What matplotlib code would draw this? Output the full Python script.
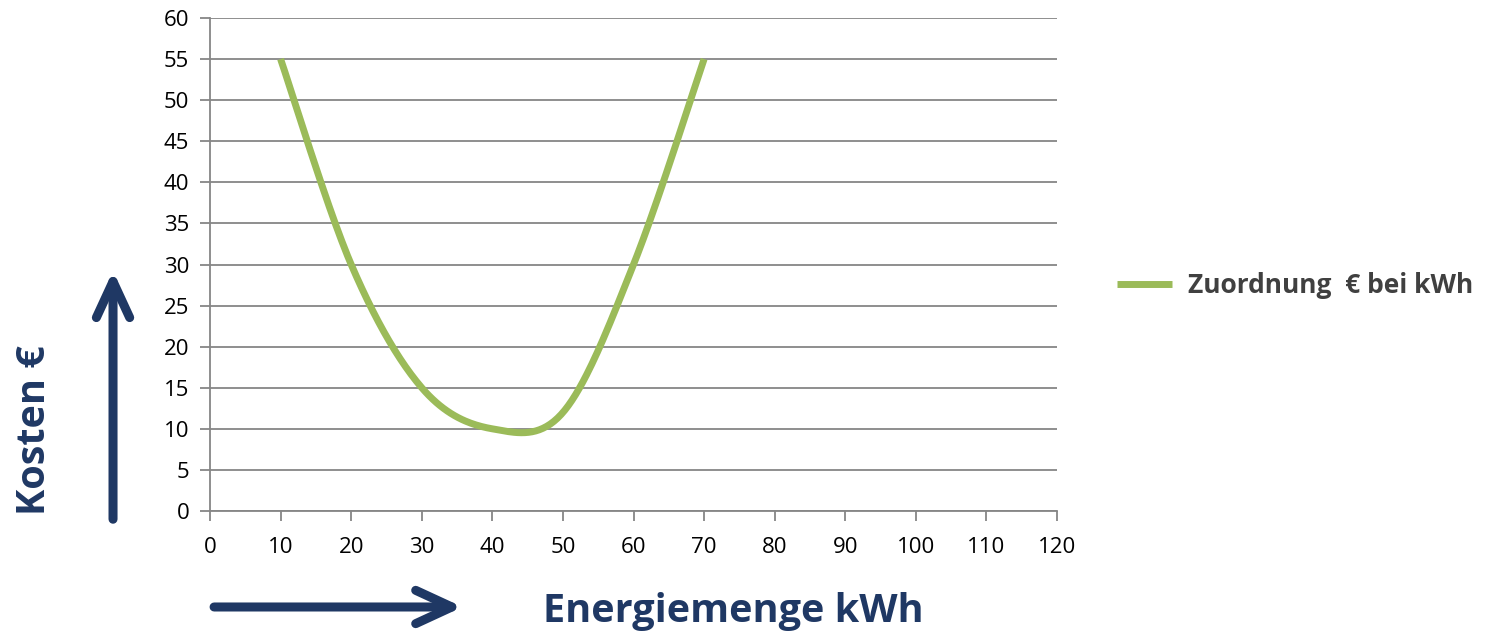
import numpy as np
import matplotlib.pyplot as plt
from matplotlib.patches import FancyArrowPatch

plt.rcParams['font.family'] = ['Open Sans', 'DejaVu Sans']

# Messpunkte: Energiemenge (kWh) -> Kosten (EUR)
kwh = [10, 20, 30, 40, 50, 60, 70]
kosten = [55, 30, 15, 10, 12, 30, 55]
x_ticks = list(range(0, 121, 10))
y_ticks = list(range(0, 61, 5))
serie = 'Zuordnung  € bei kWh'

gruen = '#9BBB59'
blau = '#1F3864'
grau = '#868686'


def glatt(xs, ys, n=40):
    # geglättete Linie wie in Excel (Bezier mit Catmull-Rom-Tangenten)
    p = np.column_stack([xs, ys]).astype(float)
    p = np.vstack([p[0], p, p[-1]])
    out = []
    for i in range(1, len(p) - 2):
        p0, p1, p2, p3 = p[i - 1], p[i], p[i + 1], p[i + 2]
        c1 = p1 + (p2 - p0) / 6
        c2 = p2 - (p3 - p1) / 6
        t = np.linspace(0, 1, n)[:, None]
        seg = (1 - t)**3 * p1 + 3 * (1 - t)**2 * t * c1 + 3 * (1 - t) * t**2 * c2 + t**3 * p2
        out.append(seg if i == 1 else seg[1:])
    out = np.vstack(out)
    return out[:, 0], out[:, 1]


fig = plt.figure(figsize=(14.97, 6.34), dpi=100)
ax = fig.add_axes([0.1403, 0.194, 0.5658, 0.7776])

sx, sy = glatt(kwh, kosten)
ax.plot(sx, sy, color=gruen, lw=5, solid_capstyle='butt', label=serie, zorder=3)

ax.set_xlim(0, 120)
ax.set_ylim(0, 60)
ax.set_xticks(x_ticks)
ax.set_yticks(y_ticks)
ax.yaxis.grid(True, color=grau, lw=1.3)
ax.set_axisbelow(True)
for s in ['top', 'right']:
    ax.spines[s].set_visible(False)
for s in ['left', 'bottom']:
    ax.spines[s].set_color(grau)
    ax.spines[s].set_linewidth(1.3)
ax.tick_params(axis='both', direction='out', length=7, width=1.3, color=grau,
               labelsize=16, labelcolor='black')
ax.tick_params(axis='x', pad=12)
ax.tick_params(axis='y', pad=8)

# Achsenbeschriftungen mit Pfeilen
fig.text(0.023, 0.322, 'Kosten €', rotation=90, ha='center', va='center',
         fontsize=28.5, fontweight='bold', color=blau)
fig.text(0.4896, 0.036, 'Energiemenge kWh', ha='center', va='center',
         fontsize=28.5, fontweight='bold', color=blau)

pfeil = dict(arrowstyle='->,head_length=1.3,head_width=0.6', color=blau, lw=6.5,
             capstyle='round', joinstyle='round', mutation_scale=20,
             shrinkA=0, shrinkB=0, transform=fig.transFigure)
fig.patches.append(FancyArrowPatch((0.0755, 0.181), (0.0755, 0.573), **pfeil))
fig.patches.append(FancyArrowPatch((0.143, 0.0426), (0.309, 0.0426), **pfeil))

fig.legend(loc='center left', bbox_to_anchor=(0.73, 0.55), frameon=False,
           handlelength=2.1, handletextpad=0.6,
           prop={'size': 19, 'weight': 'bold'}, labelcolor='#404040')

fig.savefig('out.png', dpi=100)
